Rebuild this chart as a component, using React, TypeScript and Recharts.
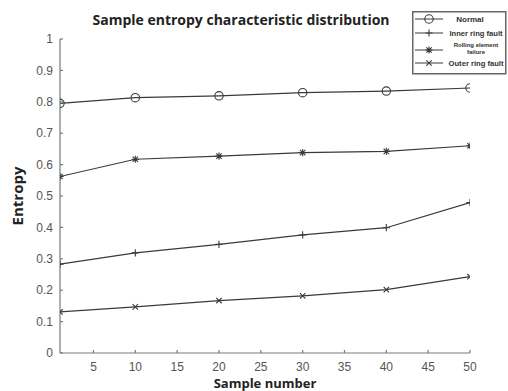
import React from 'react';
import {
  LineChart,
  Line,
  XAxis,
  YAxis,
  Legend,
} from 'recharts';

const sampleNumbers = [1, 10, 20, 30, 40, 50];
const normal = [0.795, 0.813, 0.819, 0.829, 0.834, 0.844];
const innerRing = [0.283, 0.319, 0.346, 0.376, 0.399, 0.479];
const rollingElement = [0.562, 0.617, 0.627, 0.638, 0.642, 0.66];
const outerRing = [0.131, 0.147, 0.167, 0.182, 0.202, 0.243];

const seriesNames = ['Normal', 'Inner ring fault', 'Rolling element failure', 'Outer ring fault'];
const xTicks = [5, 10, 15, 20, 25, 30, 35, 40, 45, 50];
const yTicks = [0, 0.1, 0.2, 0.3, 0.4, 0.5, 0.6, 0.7, 0.8, 0.9, 1];

const data = sampleNumbers.map((n, i) => ({
  n,
  normal: normal[i],
  inner: innerRing[i],
  rolling: rollingElement[i],
  outer: outerRing[i],
}));

const INK = '#3a3a3a';
const AXIS = '#7a7a7a';
const LABEL = '#555';
const BOLD_FONT = 'Open Sans, sans-serif';

// marker glyphs, MATLAB style
const Marker = ({ kind, cx, cy }: { kind: string; cx: number; cy: number }) => {
  const s = 3.6;
  if (kind === 'circle') {
    return <circle cx={cx} cy={cy} r={4.2} fill="none" stroke={INK} strokeWidth={1.1} />;
  }
  const plus = `M${cx - s},${cy}H${cx + s}M${cx},${cy - s}V${cy + s}`;
  const d = s * 0.75;
  const cross = `M${cx - d},${cy - d}L${cx + d},${cy + d}M${cx - d},${cy + d}L${cx + d},${cy - d}`;
  const path = kind === 'plus' ? plus : kind === 'cross' ? cross : plus + cross;
  return <path d={path} stroke={INK} strokeWidth={1.1} fill="none" />;
};

const markerKinds = ['circle', 'plus', 'star', 'cross'];
const keys = ['normal', 'inner', 'rolling', 'outer'];

const dotFor = (kind: string) => (props: any) => (
  <Marker key={`${kind}-${props.index}`} kind={kind} cx={props.cx} cy={props.cy} />
);

const LegendBox = () => {
  const rows = [8, 22, 39, 52];
  return (
    <svg width={96} height={64} style={{ display: 'block' }}>
      <rect x={0.75} y={0.75} width={93} height={62} fill="#fff" stroke="#666" strokeWidth={1.5} />
      {seriesNames.map((name, i) => {
        const y = rows[i];
        const lines = i === 2 ? ['Rolling element', 'failure'] : [name];
        return (
          <g key={name}>
            <line x1={3} x2={31} y1={y} y2={y} stroke={INK} strokeWidth={1} />
            <Marker kind={markerKinds[i]} cx={17} cy={y} />
            {lines.map((t, j) => (
              <text
                key={t}
                x={i === 0 ? 58 : 64}
                y={lines.length > 1 ? y - 3 + j * 7 : y + 3}
                textAnchor="middle"
                fontSize={lines.length > 1 ? 6 : i === 0 ? 8 : 7.6}
                fontWeight={700}
                fill="#333"
              >
                {t}
              </text>
            ))}
          </g>
        );
      })}
    </svg>
  );
};

const App = () => {
  return (
    <div style={{ position: 'absolute', left: 0, top: 0, background: '#fff', fontFamily: 'Liberation Sans, Arial, sans-serif' }}>
      <LineChart width={508} height={391} data={data} margin={{ top: 39, right: 38, bottom: 8, left: 0 }}>
        <text x={241} y={25} textAnchor="middle" fontSize={14} fontWeight={700} fill="#222" fontFamily={BOLD_FONT}>
          Sample entropy characteristic distribution
        </text>
        <text
          x={23}
          y={196}
          transform="rotate(-90 23 196)"
          textAnchor="middle"
          fontSize={15}
          fontWeight={700}
          fill="#222"
          fontFamily={BOLD_FONT}
        >
          Entropy
        </text>
        <text x={265} y={388} textAnchor="middle" fontSize={13} fontWeight={700} fill="#222" fontFamily={BOLD_FONT}>
          Sample number
        </text>
        <XAxis
          dataKey="n"
          type="number"
          domain={[1, 50]}
          ticks={xTicks}
          height={30}
          tickSize={-3}
          tickMargin={12}
          stroke={AXIS}
          strokeWidth={1.2}
          tick={{ fill: LABEL, fontSize: 12 }}
          allowDataOverflow
        />
        <YAxis
          type="number"
          domain={[0, 1]}
          ticks={yTicks}
          width={60}
          tickSize={-3}
          tickMargin={10}
          stroke={AXIS}
          strokeWidth={1.2}
          tick={{ fill: LABEL, fontSize: 12 }}
        />
        <Legend
          verticalAlign="middle"
          align="center"
          layout="vertical"
          wrapperStyle={{ top: 11, left: 412, width: 96, height: 64 }}
          content={() => <LegendBox />}
        />
        {keys.map((k, i) => (
          <Line
            key={k}
            dataKey={k}
            name={seriesNames[i]}
            stroke={INK}
            strokeWidth={1.2}
            dot={dotFor(markerKinds[i])}
            activeDot={false}
            isAnimationActive={false}
          />
        ))}
      </LineChart>
    </div>
  );
};

export default App;
